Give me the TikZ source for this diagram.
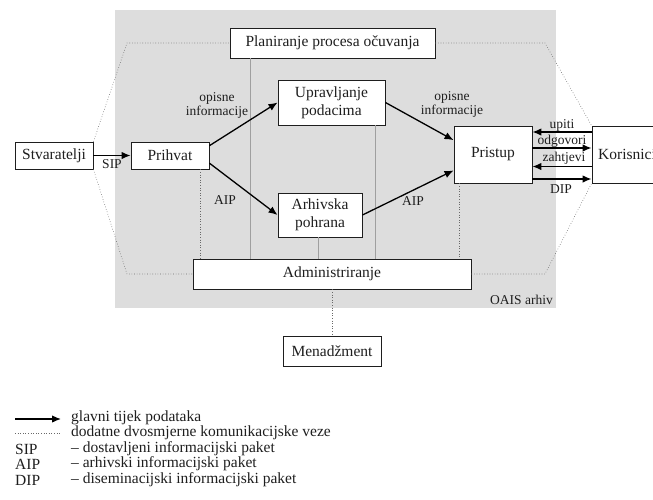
\documentclass[tikz,border=0pt]{standalone}
\usepackage{fontspec}
\setmainfont{Liberation Serif}
\usetikzlibrary{arrows.meta,calc}
\definecolor{bggray}{RGB}{221,221,221}
\definecolor{ink}{RGB}{30,30,30}
\definecolor{dotc}{RGB}{105,105,105}
\begin{document}
\begin{tikzpicture}[x=1pt,y=-1pt,
  box/.style={draw=ink, line width=0.9pt, fill=white, inner sep=0pt, font=\fontsize{15.5}{18}\selectfont, text=ink, align=center},
  flow/.style={draw=black, line width=1.3pt, -{Latex[length=9pt,width=7.5pt]}},
  dots/.style={draw=dotc, line width=0.6pt, dotted},
  vline/.style={draw=gray!75, line width=0.6pt},
  lbl/.style={font=\fontsize{13.5}{14}\selectfont, text=ink, inner sep=0pt, align=center},
  legend/.style={font=\fontsize{15.5}{16}\selectfont, text=ink, inner sep=0pt, anchor=west}]
\useasboundingbox (0,0) rectangle (653,499);
% background
\fill[bggray] (115,10) rectangle (556,308);
% boxes
\node[box, minimum width=78, minimum height=27] (stv) at (54,155.5) {Stvaratelji};
\node[box, minimum width=78, minimum height=27] (pri) at (170,155.5) {Prihvat};
\node[box, minimum width=205, minimum height=30] (pla) at (332.5,43) {Planiranje procesa očuvanja};
\node[box, minimum width=107, minimum height=45] (upr) at (331.5,102.5) {Upravljanje\\podacima};
\node[box, minimum width=84, minimum height=44] (arh) at (320,215) {Arhivska\\pohrana};
\node[box, minimum width=78, minimum height=57] (pst) at (493,154.5) {Pristup};
\node[box, minimum width=70, minimum height=57] (kor) at (627,154.5) {Korisnici};
\node[box, minimum width=278, minimum height=30] (adm) at (332,274) {Administriranje};
\node[box, minimum width=98, minimum height=30] (men) at (332,351) {Menadžment};
\node[lbl, anchor=east] (oais) at (553,300) {OAIS arhiv};
% octagon of dotted links
\coordinate (tl) at (127,43);
\coordinate (tr) at (545,43);
\coordinate (bl) at (127,274);
\coordinate (br) at (545,274);
\draw[dots] (stv.north east) -- (tl) -- (pla.west);
\draw[dots] (pla.east) -- (tr) -- (kor.north west);
\draw[dots] (stv.south east) -- (bl) -- (adm.west);
\draw[dots] (adm.east) -- (br) -- (kor.south west);
% vertical links
\coordinate (v1) at ($(pri.south east)+(-9,0)$);
\draw[dots] (v1) -- (v1 |- adm.north);
\coordinate (v2) at ($(pla.south west)+(21,0)$);
\draw[vline] (v2) -- (v2 |- adm.north);
\coordinate (v3) at ($(arh.south)+(-2,0)$);
\draw[vline] (v3) -- (v3 |- adm.north);
\coordinate (v4) at ($(upr.south east)+(-10,0)$);
\draw[vline] (v4) -- (v4 |- adm.north);
\coordinate (v5) at ($(pst.south west)+(6,0)$);
\draw[dots] (v5) -- (v5 |- adm.north);
\draw[dots] (adm.south) -- (men.north);
% main flows
\draw[flow] (stv) -- (pri);
\draw[flow] (pri.14) -- (upr.west);
\draw[flow] (pri.-11) -- (arh.west);
\draw[flow] (upr.east) -- (pst.160);
\draw[flow] (arh.east) -- (pst.202);
\draw[flow] ($(kor.west)+(0,-22.5)$) -- ($(pst.east)+(0,-22.5)$);
\draw[flow] ($(pst.east)+(0,-6.5)$) -- ($(kor.west)+(0,-6.5)$);
\draw[flow] ($(kor.west)+(0,12)$) -- ($(pst.east)+(0,12)$);
\draw[flow] ($(pst.east)+(0,24.5)$) -- ($(kor.west)+(0,24.5)$);
% labels
\node[lbl] (lsip) at (112,164) {SIP};
\node[lbl] (lop1) at (217,105) {opisne\\informacije};
\node[lbl] (laip1) at (225,200) {AIP};
\node[lbl] (lop2) at (452,104) {opisne\\informacije};
\node[lbl] (laip2) at (413,201) {AIP};
\node[lbl] (lup) at (562,125) {upiti};
\node[lbl] (lodg) at (562,141) {odgovori};
\node[lbl] (lzah) at (564,158) {zahtjevi};
\node[lbl] (ldip) at (561,189) {DIP};
% legend
\coordinate (la1) at (15,419);
\coordinate (la2) at (61,419);
\draw[flow] (la1) -- (la2);
\coordinate (ld1) at (15,433);
\coordinate (ld2) at (61,433);
\draw[dots] (ld1) -- (ld2);
\node[legend] (g1) at (71,418) {glavni tijek podataka};
\node[legend] (g2) at (71,433) {dodatne dvosmjerne komunikacijske veze};
\node[legend] (s1) at (15,449) {SIP};
\node[legend] (s2) at (71,449) {– dostavljeni informacijski paket};
\node[legend] (a1) at (15,464) {AIP};
\node[legend] (a2) at (71,464) {– arhivski informacijski paket};
\node[legend] (d1) at (15,480) {DIP};
\node[legend] (d2) at (71,480) {– diseminacijski informacijski paket};
\end{tikzpicture}
\end{document}
